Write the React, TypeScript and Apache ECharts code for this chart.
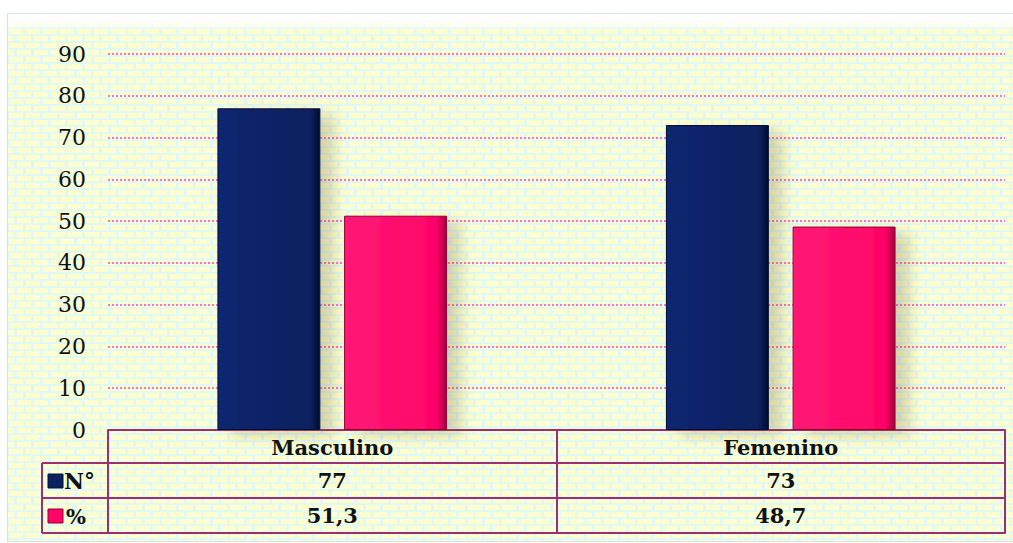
import React, { useEffect, useRef } from "react";
import * as echarts from "echarts";

const categories = ["Masculino", "Femenino"];
const countValues = [77, 73];
const pctValues = [51.3, 48.7];
const countLabels = ["77", "73"];
const pctLabels = ["51,3", "48,7"];
const seriesNames = ["N°", "%"];
const yTicks = { min: 0, max: 90, interval: 10 };

const NAVY = "#0a215f";
const PINK = "#ff0467";
const BORDER = "#9c2f70";
const FONT = "'DejaVu Serif', 'Liberation Serif', serif";

const brick =
  "data:image/svg+xml;utf8," +
  encodeURIComponent(
    "<svg xmlns='http://www.w3.org/2000/svg' width='34' height='14'>" +
      "<rect width='34' height='14' fill='#e0f9f3'/>" +
      "<rect x='1' y='1' width='14' height='5' fill='#ffffcf'/>" +
      "<rect x='18' y='1' width='14' height='5' fill='#ffffcf'/>" +
      "<rect x='-8' y='8' width='14' height='5' fill='#ffffcf'/>" +
      "<rect x='9' y='8' width='14' height='5' fill='#ffffcf'/>" +
      "<rect x='26' y='8' width='14' height='5' fill='#ffffcf'/>" +
      "</svg>"
  );

export default function App() {
  const ref = useRef<HTMLDivElement>(null);

  useEffect(() => {
    if (!ref.current) return;
    const chart = echarts.init(ref.current, null, { renderer: "svg" });
    const gridLeft = 108;
    const gridRight = 8;
    const gridTop = 54;
    const gridBottom = 113;
    const tickStyle = { color: BORDER, width: 2 };
    const rowAxis = (labels: string[], offset: number, tickLen: number, showLabel: boolean) => ({
      type: "category",
      gridIndex: 0,
      position: "bottom",
      offset,
      data: labels,
      axisLine: { show: true, lineStyle: tickStyle },
      axisTick: { show: tickLen > 0, interval: 0, length: tickLen, lineStyle: tickStyle },
      axisLabel: {
        show: showLabel,
        interval: 0,
        margin: 17,
        verticalAlign: "middle",
        fontFamily: FONT,
        fontWeight: "bold",
        fontSize: 21,
        color: "#111",
      },
      splitLine: { show: false },
    });
    chart.setOption({
      animation: false,
      backgroundColor: "transparent",
      grid: { left: gridLeft, right: gridRight, top: gridTop, bottom: gridBottom, containLabel: false },
      xAxis: [
        rowAxis(categories, 0, 33, true),
        rowAxis(countLabels, 33, 35, true),
        rowAxis(pctLabels, 68, 35, true),
        rowAxis(["", ""], 103, 0, false),
      ],
      yAxis: {
        type: "value",
        min: yTicks.min,
        max: yTicks.max,
        interval: yTicks.interval,
        axisLine: { show: false },
        axisTick: { show: false },
        axisLabel: {
          margin: 22,
          fontFamily: FONT,
          fontSize: 22,
          color: "#111",
        },
        splitLine: {
          show: true,
          lineStyle: { color: "#ff70c6", type: [2, 2], width: 2 },
        },
      },
      series: [
        {
          name: seriesNames[0],
          type: "bar",
          xAxisIndex: 0,
          data: countValues,
          barWidth: 103,
          barGap: "23%",
          itemStyle: {
            color: {
              type: "linear", x: 0, y: 0, x2: 1, y2: 0,
              colorStops: [
                { offset: 0, color: "#0d2670" },
                { offset: 0.9, color: NAVY },
                { offset: 1, color: "#030d30" },
              ],
            },
            borderColor: "#04113a",
            borderWidth: 1,
            shadowColor: "rgba(110,95,40,0.25)",
            shadowBlur: 14,
            shadowOffsetX: 14,
            shadowOffsetY: 6,
          },
        },
        {
          name: seriesNames[1],
          type: "bar",
          xAxisIndex: 0,
          data: pctValues,
          barWidth: 103,
          itemStyle: {
            color: {
              type: "linear", x: 0, y: 0, x2: 1, y2: 0,
              colorStops: [
                { offset: 0, color: "#ff1a75" },
                { offset: 0.9, color: PINK },
                { offset: 1, color: "#a3003e" },
              ],
            },
            borderColor: "#8e0036",
            borderWidth: 1,
            shadowColor: "rgba(110,95,40,0.25)",
            shadowBlur: 14,
            shadowOffsetX: 14,
            shadowOffsetY: 6,
          },
        },
      ],
      graphic: [
        { type: "line", shape: { x1: 42, y1: 463, x2: gridLeft, y2: 463 }, style: { stroke: BORDER, lineWidth: 2 } },
        { type: "line", shape: { x1: 42, y1: 498, x2: gridLeft, y2: 498 }, style: { stroke: BORDER, lineWidth: 2 } },
        { type: "line", shape: { x1: 42, y1: 533, x2: gridLeft, y2: 533 }, style: { stroke: BORDER, lineWidth: 2 } },
        { type: "line", shape: { x1: 42, y1: 463, x2: 42, y2: 533 }, style: { stroke: BORDER, lineWidth: 2 } },
        { type: "rect", shape: { x: 48, y: 474, width: 15, height: 14 }, style: { fill: NAVY, stroke: "#04113a", lineWidth: 1 } },
        { type: "rect", shape: { x: 48, y: 509, width: 15, height: 14 }, style: { fill: PINK, stroke: "#8e0036", lineWidth: 1 } },
        {
          type: "text",
          style: { x: 64, y: 481, text: seriesNames[0], fontFamily: FONT, fontWeight: "bold", fontSize: 22, fill: "#111", verticalAlign: "middle" },
        },
        {
          type: "text",
          style: { x: 66, y: 516, text: seriesNames[1], fontFamily: FONT, fontWeight: "bold", fontSize: 21, fill: "#111", verticalAlign: "middle" },
        },
      ],
    });
    return () => chart.dispose();
  }, []);

  return (
    <div style={{ position: "absolute", left: 0, top: 0, width: 1013, height: 543, overflow: "hidden", background: "#fff" }}>
      <div
        style={{
          position: "absolute",
          left: 7,
          top: 13,
          width: 1012,
          height: 527,
          border: "1px solid #d5e1e8",
          backgroundImage: `url("${brick}")`,
          backgroundRepeat: "repeat",
        }}
      />
      <div
        style={{
          position: "absolute",
          left: 8,
          top: 14,
          width: 1010,
          height: 16,
          background: "linear-gradient(to bottom, rgba(255,255,255,1) 0%, rgba(255,255,255,0.85) 60%, rgba(255,255,255,0) 100%)",
        }}
      />
      <div ref={ref} style={{ position: "absolute", left: 0, top: 0, width: 1013, height: 543 }} />
    </div>
  );
}
